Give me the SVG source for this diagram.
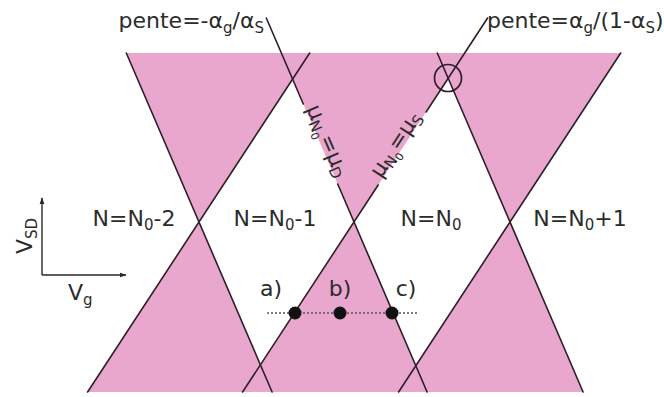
<svg xmlns="http://www.w3.org/2000/svg" width="664" height="397" viewBox="0 0 664 397">
  <defs>
    <marker id="arr" viewBox="0 0 10 10" refX="9" refY="5" markerWidth="7" markerHeight="7" orient="auto" markerUnits="userSpaceOnUse">
      <path d="M0,1.5 L10,5 L0,8.5 Z" fill="#2a2a2a"/>
    </marker>
  </defs>
  <style>
    .ln { stroke: #2d1f2a; stroke-width: 1.6; fill: none; stroke-linecap: round; }
    .ax { stroke: #2a2a2a; stroke-width: 1.4; fill: none; }
    .t { font-family: "DejaVu Sans", "Liberation Sans", sans-serif; font-size: 22px; fill: #2b2b2b; }
    .s { font-size: 15px; }
    .ss { font-size: 11px; }
    .dot { fill: #111; }
  </style>
  <rect width="664" height="397" fill="#ffffff"/>

  <g id="conduction-regions">
    <path fill="#e9a7cd" fill-rule="evenodd" d="M126.3,53 L620.7,53 L510,222 L583.1,392 L87.6,392 L199,222 Z M199,222 L292.6,79.1 L354,222 L260.4,364.9 Z M354,222 L448.2,78.2 L510,222 L415.8,365.8 Z"/>
  </g>

  <g id="connectors">
    <line class="ln" x1="126.3" y1="53" x2="272.1" y2="392"/>
    <line class="ln" x1="266.3" y1="18" x2="303.3" y2="104"/>
    <line class="ln" x1="337.7" y1="184" x2="427.1" y2="392"/>
    <line class="ln" x1="437.3" y1="53" x2="583.1" y2="392"/>
    <line class="ln" x1="309.7" y1="53" x2="87.6" y2="392"/>
    <line class="ln" x1="487.6" y1="18" x2="426.1" y2="112"/>
    <line class="ln" x1="378.2" y1="185" x2="242.6" y2="392"/>
    <line class="ln" x1="620.7" y1="53" x2="398.6" y2="392"/>
    <line x1="267" y1="313" x2="419" y2="313" stroke="#555" stroke-width="1.3" stroke-dasharray="2,2"/>
  </g>

  <g id="slope-marker">
    <circle cx="448" cy="78" r="13.5" fill="none" stroke="#2d1f2a" stroke-width="1.7"/>
  </g>

  <g id="label-slope-left">
    <text class="t" x="264" y="28" text-anchor="end">pente=-α<tspan class="s" dy="5">g</tspan><tspan dy="-5">/α</tspan><tspan class="s" dy="5">S</tspan></text>
  </g>
  <g id="label-slope-right">
    <text class="t" x="487" y="28">pente=α<tspan class="s" dy="5">g</tspan><tspan dy="-5">/(1-α</tspan><tspan class="s" dy="5">S</tspan><tspan dy="-5">)</tspan></text>
  </g>

  <g id="label-muD" transform="translate(321.4,143.6) rotate(66.7)">
    <text class="t" x="0" y="0" text-anchor="middle" font-size="20">μ<tspan class="s" dy="4">N</tspan><tspan class="ss" dy="3">0</tspan><tspan dy="-7">=μ</tspan><tspan class="s" dy="4">D</tspan></text>
  </g>
  <g id="label-muS" transform="translate(401.3,148) rotate(-56.8)">
    <text class="t" x="0" y="0" text-anchor="middle" font-size="20">μ<tspan class="s" dy="4">N</tspan><tspan class="ss" dy="3">0</tspan><tspan dy="-7">=μ</tspan><tspan class="s" dy="4">S</tspan></text>
  </g>

  <g id="region-N0-2">
    <text class="t" x="134" y="226" text-anchor="middle">N=N<tspan class="s" dy="4">0</tspan><tspan dy="-4">-2</tspan></text>
  </g>
  <g id="region-N0-1">
    <text class="t" x="275" y="226" text-anchor="middle">N=N<tspan class="s" dy="4">0</tspan><tspan dy="-4">-1</tspan></text>
  </g>
  <g id="region-N0">
    <text class="t" x="431" y="226" text-anchor="middle">N=N<tspan class="s" dy="4">0</tspan></text>
  </g>
  <g id="region-N0+1">
    <text class="t" x="580" y="226" text-anchor="middle">N=N<tspan class="s" dy="4">0</tspan><tspan dy="-4">+1</tspan></text>
  </g>

  <g id="axes">
    <line class="ax" x1="42" y1="275" x2="42" y2="198" marker-end="url(#arr)"/>
    <line class="ax" x1="42" y1="275" x2="126" y2="275" marker-end="url(#arr)"/>
    <text class="t" transform="translate(32,254) rotate(-90)" x="0" y="0">V<tspan class="s" dy="5">SD</tspan></text>
    <text class="t" x="68" y="300">V<tspan class="s" dy="5">g</tspan></text>
  </g>

  <g id="point-a">
    <circle class="dot" cx="295" cy="313" r="6.5"/>
    <text class="t" x="271" y="296" text-anchor="middle">a)</text>
  </g>
  <g id="point-b">
    <circle class="dot" cx="340" cy="313" r="6.5"/>
    <text class="t" x="340" y="296" text-anchor="middle">b)</text>
  </g>
  <g id="point-c">
    <circle class="dot" cx="392" cy="313" r="6.5"/>
    <text class="t" x="406" y="296" text-anchor="middle">c)</text>
  </g>
</svg>
